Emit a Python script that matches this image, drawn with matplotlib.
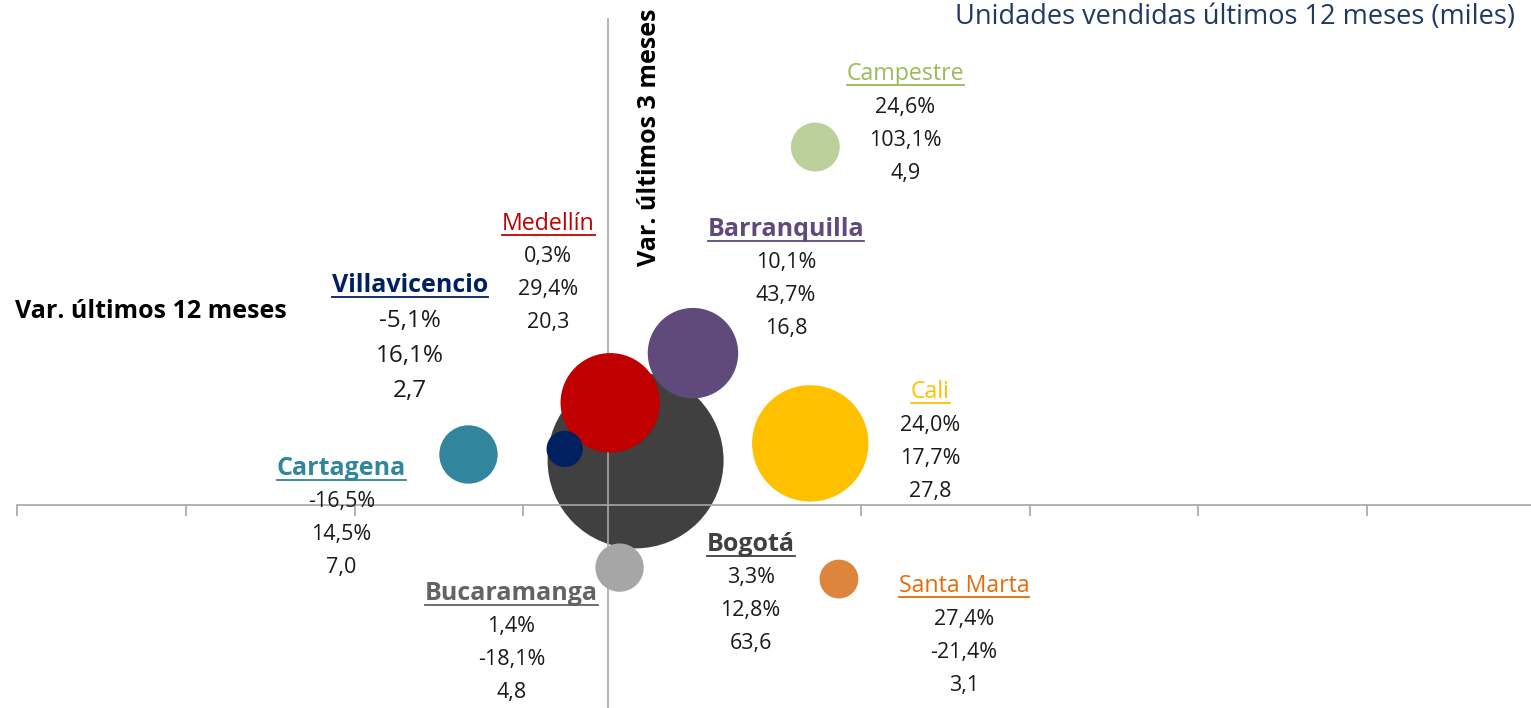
import numpy as np
import matplotlib.pyplot as plt
from matplotlib.lines import Line2D

plt.rcParams["font.family"] = ["Open Sans", "DejaVu Sans"]

# data: var. 3 meses (x), var. 12 meses (y), unidades vendidas 12 meses (miles)
cities = ["Bogotá", "Medellín", "Cali", "Barranquilla", "Cartagena",
          "Bucaramanga", "Villavicencio", "Santa Marta", "Campestre"]
var_x = [3.3, 0.3, 24.0, 10.1, -16.5, 1.4, -5.1, 27.4, 24.6]
var_y = [12.8, 29.4, 17.7, 43.7, 14.5, -18.1, 16.1, -21.4, 103.1]
units = [63.6, 20.3, 27.8, 16.8, 7.0, 4.8, 2.7, 3.1, 4.9]

bubble_colors = ["#404040", "#C00000", "#FFC000", "#604A7B", "#31859C",
                 "#A6A6A6", "#002060", "#DD843D", "#BBD09A"]
name_colors = ["#404040", "#C00000", "#FFC000", "#604A7B", "#31859C",
               "#636363", "#002060", "#E46C0A", "#9BBB59"]
name_bold = [True, False, False, True, True, True, True, False, False]

# label placement, pixels from bubble centre (name line)
label_dx = [115, -62, 120, 93, -127, -108, -155, 125, 90]
label_dy = [-84, 179, 51, 124, -14, -26, 163, -7, 73]


def fmt(v, pct=True):
    s = f"{v:.1f}".replace(".", ",")
    return s + "%" if pct else s


fig = plt.figure(figsize=(15.31, 7.08), dpi=100)
ax = fig.add_axes([17 / 1531, -5 / 708, 1519 / 1531, 694 / 708])
ax.set_xlim(-70, 110)
ax.set_ylim(-60, 140)

for side in ["top", "right"]:
    ax.spines[side].set_visible(False)
ax.spines["left"].set_position(("data", 0))
ax.spines["bottom"].set_position(("data", 0))
for side in ["left", "bottom"]:
    ax.spines[side].set_color("#A6A6A6")
    ax.spines[side].set_linewidth(1.2)
ax.set_xticks(np.arange(-70, 111, 20))
ax.set_xticklabels([])
ax.set_yticks([])
ax.tick_params(axis="x", direction="out", length=8, width=1.2, color="#A6A6A6")

# area proportional to units (Bogotá radius ~88 px)
scale = (2 * 88 * 0.72) ** 2 / 63.6
sizes = [u * scale for u in units]
for i in range(len(cities)):
    ax.scatter(var_x[i], var_y[i], s=sizes[i], color=bubble_colors[i],
               edgecolors="none", zorder=2 if i == 0 else 3, clip_on=False)

name_texts = []
for i, c in enumerate(cities):
    big = c == "Villavicencio"
    t = ax.annotate(c, (var_x[i], var_y[i]), xytext=(label_dx[i], label_dy[i]),
                    textcoords="offset pixels", ha="center", va="center",
                    fontsize=18 if name_bold[i] else 16.7,
                    fontweight="bold" if name_bold[i] else "normal",
                    color=name_colors[i], zorder=5)
    name_texts.append((t, name_colors[i]))
    vals = [fmt(var_x[i]), fmt(var_y[i]), fmt(units[i], pct=False)]
    gap = 35 if big else 33
    for k, v in enumerate(vals):
        ax.annotate(v, (var_x[i], var_y[i]),
                    xytext=(label_dx[i], label_dy[i] - gap * (k + 1)),
                    textcoords="offset pixels", ha="center", va="center",
                    fontsize=17.5 if big else 15.5, color="#1a1a1a", zorder=5)

fig.text(15 / 1531, 1 - 312 / 708, "Var. últimos 12 meses", ha="left", va="center",
         fontsize=18, fontweight="bold", color="black")
fig.text(650 / 1531, 1 - 137 / 708, "Var. últimos 3 meses", ha="center", va="center",
         rotation=90, fontsize=18, fontweight="bold", color="black")
fig.text(1515 / 1531, 1 - 17 / 708, "Unidades vendidas últimos 12 meses (miles)",
         ha="right", va="center", fontsize=19.5, color="#1F3864")

# underline city names
renderer = fig.canvas.get_renderer()
for t, col in name_texts:
    bb = t.get_window_extent(renderer)
    y = bb.y0 + 1
    fig.add_artist(Line2D([bb.x0 / 1531, bb.x1 / 1531], [y / 708, y / 708],
                          transform=fig.transFigure, color=col, linewidth=1.3))

fig.savefig("out.png", dpi=100)
